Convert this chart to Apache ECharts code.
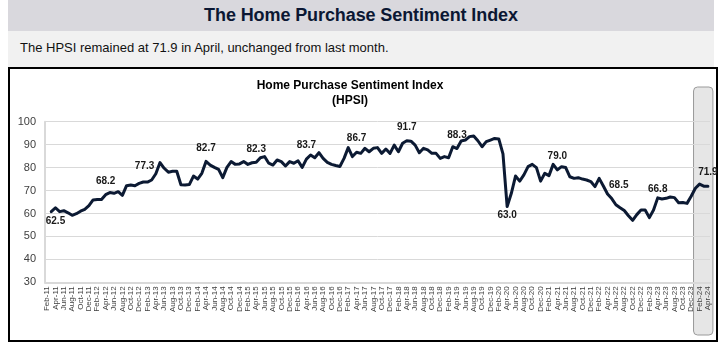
<!DOCTYPE html>
<html>
<head>
<meta charset="utf-8">
<script src="https://cdn.jsdelivr.net/npm/echarts@6/dist/echarts.min.js"></script>
<style>
  html, body { margin: 0; padding: 0; background: #ffffff; }
  body { width: 726px; height: 346px; position: relative; overflow: hidden; font-family: "Liberation Sans", Arial, sans-serif; }
  #head { position: absolute; left: 8px; top: 0; width: 706px; height: 31px; background: #d9d8dd;
          color: #0b1733; font-weight: bold; font-size: 18px; line-height: 31px; text-align: center; letter-spacing: -0.1px; }
  #sub { position: absolute; left: 8px; top: 31px; width: 706px; height: 36px; background: #f1f1f1;
         color: #111; font-size: 13px; line-height: 34px; padding-left: 12px; box-sizing: border-box; }
  #box { position: absolute; left: 8px; top: 67px; width: 706px; height: 271px; border: 2px solid #000; background: #fff; }
  #chart { position: absolute; left: 0; top: 0; width: 726px; height: 346px; }
</style>
</head>
<body>
<div id="head">The Home Purchase Sentiment Index</div>
<div id="sub">The HPSI remained at 71.9 in April, unchanged from last month.</div>
<div id="box"></div>
<div id="chart"></div>
<script>
// Monthly index, Feb-11 through Apr-24 (first month has no reading)
const hpsi2011 = [null, 60.8, 62.5, 60.8, 61.2, 60.3, 59.2, 59.9, 61.0, 61.8, 63.4];
const hpsi2012 = [65.9, 66.1, 66.1, 68.2, 69.1, 68.8, 69.5, 67.9, 72.1, 72.4, 72.1, 73.1];
const hpsi2013 = [73.7, 73.7, 74.6, 77.3, 82.2, 79.7, 78.0, 78.4, 78.4, 72.5, 72.4, 72.6];
const hpsi2014 = [76.3, 75.0, 77.5, 82.7, 81.1, 80.1, 79.2, 75.6, 80.1, 82.6, 81.4, 81.6];
const hpsi2015 = [82.6, 81.4, 82.1, 82.3, 84.3, 84.8, 81.9, 81.1, 83.3, 82.6, 80.7, 82.6];
const hpsi2016 = [81.9, 83.0, 80.1, 83.7, 85.5, 84.3, 86.5, 84.0, 82.3, 81.4, 80.9, 80.5];
const hpsi2017 = [84.0, 88.7, 84.8, 86.7, 86.2, 88.4, 86.9, 88.4, 88.7, 86.2, 88.1, 86.2];
const hpsi2018 = [89.8, 86.9, 90.6, 91.7, 91.5, 89.8, 86.5, 88.4, 87.7, 86.2, 86.2, 84.0];
const hpsi2019 = [84.8, 84.3, 89.1, 88.3, 91.6, 92.0, 93.5, 93.8, 91.7, 89.1, 91.3, 92.0];
const hpsi2020 = [92.7, 92.5, 86.0, 63.0, 68.8, 76.3, 74.1, 76.8, 80.4, 81.4, 80.0, 74.1];
const hpsi2021 = [77.5, 76.5, 81.4, 79.0, 80.4, 80.0, 76.0, 75.3, 75.6, 75.0, 74.6, 73.9];
const hpsi2022 = [71.7, 75.3, 72.0, 68.5, 66.5, 63.8, 62.5, 61.3, 59.0, 57.0, 59.5, 61.5];
const hpsi2023 = [61.5, 58.2, 61.5, 66.8, 66.3, 66.6, 67.2, 66.9, 64.7, 64.8, 64.4, 67.5];
const hpsi2024 = [71.0, 72.8, 71.9, 71.9];

const monthNames = ['Jan','Feb','Mar','Apr','May','Jun','Jul','Aug','Sep','Oct','Nov','Dec'];
const yTicks = [30, 40, 50, 60, 70, 80, 90, 100];

// April readings carry a value label: [category, label placement]
const labelledMonths = [
  ['Apr-11', 'below'], ['Apr-12', 'above'], ['Apr-13', 'leftAbove'], ['Apr-14', 'above'],
  ['Apr-15', 'above'], ['Apr-16', 'above'], ['Apr-17', 'above'], ['Apr-18', 'above'],
  ['Apr-19', 'above'], ['Apr-20', 'belowNear'], ['Apr-21', 'above'], ['Apr-22', 'rightAbove'],
  ['Apr-23', 'aboveNear'], ['Apr-24', 'above']
];

const values = [].concat(hpsi2011, hpsi2012, hpsi2013, hpsi2014, hpsi2015, hpsi2016, hpsi2017,
  hpsi2018, hpsi2019, hpsi2020, hpsi2021, hpsi2022, hpsi2023, hpsi2024);

const categories = [];
for (let k = 0; k < values.length; k++) {
  const m = (1 + k) % 12;
  const y = 11 + Math.floor((1 + k) / 12);
  categories.push(monthNames[m] + '-' + String(y).padStart(2, '0'));
}

const placement = {
  above:      { position: 'top', distance: 8 },
  aboveNear:  { position: 'top', distance: 3 },
  below:      { position: 'bottom', distance: 8 },
  belowNear:  { position: 'bottom', distance: 3 },
  leftAbove:  { position: 'left', distance: 1, offset: [0, -8] },
  rightAbove: { position: 'right', distance: 1, offset: [0, -9] }
};

const labelAt = {};
labelledMonths.forEach(([c, p]) => { labelAt[c] = p; });

const seriesData = values.map((v, i) => {
  const p = labelAt[categories[i]];
  if (!p || v == null) return v;
  return { value: v, label: Object.assign({ show: true }, placement[p]) };
});

const chart = echarts.init(document.getElementById('chart'), null, { renderer: 'canvas' });

const baseFont = '"Liberation Sans", Arial, sans-serif';

chart.setOption({
  animation: false,
  backgroundColor: 'transparent',
  title: {
    text: 'Home Purchase Sentiment Index\n(HPSI)',
    left: 345, top: 73, textAlign: 'center',
    textStyle: { fontFamily: baseFont, fontSize: 12, fontWeight: 'bold', color: '#000', lineHeight: 15 }
  },
  grid: { left: 45, right: 16, top: 121.7, bottom: 63.7, containLabel: false },
  xAxis: {
    type: 'category',
    data: categories,
    boundaryGap: true,
    axisLine: { show: true, lineStyle: { color: '#d9d9d9', width: 2 } },
    axisTick: { show: false },
    axisLabel: {
      interval: 1, rotate: 90, margin: 4,
      fontFamily: baseFont, fontSize: 8, color: '#404040'
    },
    splitLine: { show: false }
  },
  yAxis: {
    type: 'value', min: 30, max: 100, interval: 10,
    axisLine: { show: true, lineStyle: { color: '#d9d9d9', width: 2 } },
    axisTick: { show: false },
    axisLabel: {
      margin: 9, fontFamily: baseFont, fontSize: 11, color: '#404040',
      formatter: v => (yTicks.indexOf(v) >= 0 ? String(v) : '')
    },
    splitLine: { show: true, lineStyle: { color: '#d9d9d9', width: 1 } }
  },
  series: [{
    type: 'line',
    data: seriesData,
    symbol: 'circle',
    symbolSize: 1,
    showAllSymbol: true,
    connectNulls: false,
    lineStyle: { color: '#0c1a33', width: 3, join: 'round', cap: 'round' },
    itemStyle: { color: '#0c1a33' },
    label: {
      show: false,
      fontFamily: baseFont, fontSize: 10, fontWeight: 'bold', color: '#1a1a1a',
      formatter: p => Number(p.value).toFixed(1)
    },
    z: 5
  }]
});

// Rounded highlight band behind the two latest axis labels
const xa = chart.convertToPixel({ xAxisIndex: 0 }, 'Feb-24');
const xb = chart.convertToPixel({ xAxisIndex: 0 }, 'Apr-24');
chart.setOption({
  graphic: [{
    type: 'rect', z: -1, silent: true,
    shape: { x: xa - 6, y: 87, width: (xb + 5) - (xa - 6), height: 248, r: 4 },
    style: { fill: '#e6e6e6', stroke: '#9a9a9a', lineWidth: 1 }
  }]
});
</script>
</body>
</html>
